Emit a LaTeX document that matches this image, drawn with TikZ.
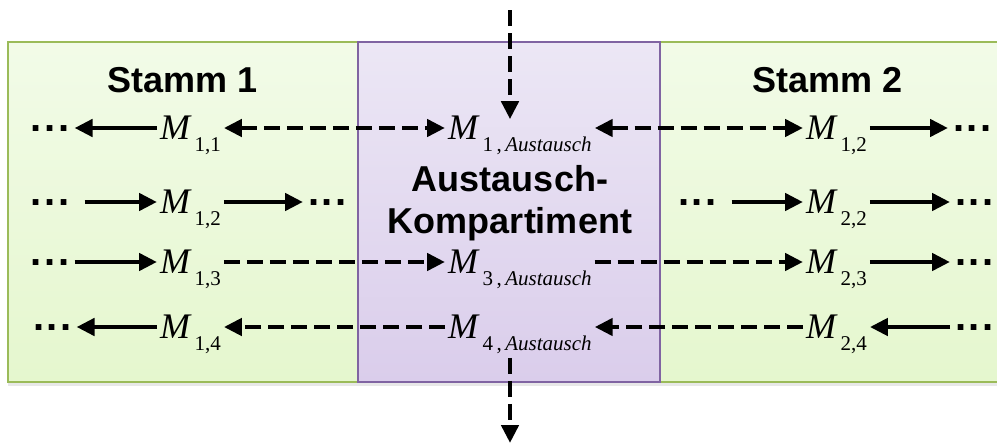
\documentclass[tikz,border=0pt]{standalone}
\usepackage{fontspec}
\setmainfont{Liberation Serif}
\setsansfont{Liberation Sans}
\usetikzlibrary{arrows.meta,shadows}
\definecolor{stammtop}{RGB}{242,251,232}
\definecolor{stammbot}{RGB}{229,247,206}
\definecolor{stammline}{RGB}{155,187,89}
\definecolor{austtop}{RGB}{236,231,245}
\definecolor{austbot}{RGB}{218,205,235}
\definecolor{austline}{RGB}{128,100,162}
\newcommand{\mvar}[1]{\textit{M}\hspace{1.5pt}\smash{\raisebox{-6pt}{\fontsize{10.5}{12}\selectfont #1}}}
\newcommand{\punkte}{.\kern1.3pt.\kern1.3pt.}
\tikzset{
  >={Triangle[length=9pt,width=8.5pt]},
  panel/.style={line width=1.2pt, drop shadow={opacity=0.18, shadow xshift=0pt, shadow yshift=-2pt}},
  stamm/.style={panel, draw=stammline, top color=stammtop, bottom color=stammbot},
  austausch/.style={panel, draw=austline, top color=austtop, bottom color=austbot},
  title/.style={font=\sffamily\bfseries\fontsize{18}{21}\selectfont, align=center},
  mnode/.style={font=\fontsize{18}{20}\selectfont, inner sep=0pt, outer sep=1.5pt, anchor=west},
  dots/.style={font=\sffamily\bfseries\fontsize{20}{22}\selectfont, inner sep=0pt, outer sep=2.5pt, anchor=west},
  flow/.style={line width=2.4pt},
  flowd/.style={flow, dash pattern=on 8pt off 3.5pt}
}

\begin{document}
\begin{tikzpicture}[x=0.5pt, y=-0.5pt]
  \useasboundingbox (0,0) rectangle (997,445);
  % Kompartimente
  \path[stamm] (8,42) rectangle (358,382);
  \path[stamm] (660,42) rectangle (1010,382);
  \path[austausch] (358,42) rectangle (660,382);
  \node[title, anchor=base] (s1) at (183,92) {Stamm 1};
  \node[title, anchor=base] (s2) at (828,92) {Stamm 2};
  \node[title] (ak) at (510,203) {Austausch-\\Kompartiment};
  % Zeile 1
  \node[dots] (l1) at (26,129) {\punkte};
  \node[mnode] (m11) at (157,128) {\mvar{1,1}};
  \node[mnode] (a1) at (445,128) {\mvar{1\,,\,\textit{Austausch}}};
  \node[mnode] (r12) at (803,128) {\mvar{1,2}};
  \node[dots] (r1) at (948,129) {\punkte};
  % Zeile 2
  \node[dots] (l2a) at (26,203) {\punkte};
  \node[mnode] (m12) at (157,202) {\mvar{1,2}};
  \node[dots] (l2b) at (303,203) {\punkte};
  \node[dots] (r2a) at (673,203) {\punkte};
  \node[mnode] (r22) at (803,202) {\mvar{2,2}};
  \node[dots] (r2b) at (950,203) {\punkte};
  % Zeile 3
  \node[dots] (l3) at (26,263) {\punkte};
  \node[mnode] (m13) at (157,262) {\mvar{1,3}};
  \node[mnode] (a3) at (445,262) {\mvar{3\,,\,\textit{Austausch}}};
  \node[mnode] (r23) at (803,262) {\mvar{2,3}};
  \node[dots] (r3) at (950,263) {\punkte};
  % Zeile 4
  \node[dots] (l4) at (28,328) {\punkte};
  \node[mnode] (m14) at (157,327) {\mvar{1,4}};
  \node[mnode] (a4) at (445,327) {\mvar{4\,,\,\textit{Austausch}}};
  \node[mnode] (r24) at (803,327) {\mvar{2,4}};
  \node[dots] (r4) at (950,328) {\punkte};
  \coordinate (top) at (510,10);
  \coordinate (bot) at (510,443);
  % Pfeile
  \draw[flow,->] (m11.west) -- (l1.east |- m11.west);
  \draw[flowd,<->] (m11) -- (a1);
  \draw[flowd,<->] (a1) -- (r12);
  \draw[flow,->] (r12.east) -- (r1.west |- r12.east);
  \draw[flow,->,shorten <=5pt] (l2a.east |- m12.west) -- (m12.west);
  \draw[flow,->] (m12.east) -- (l2b.west |- m12.east);
  \draw[flow,->,shorten <=5pt] (r2a.east |- r22.west) -- (r22.west);
  \draw[flow,->] (r22.east) -- (r2b.west |- r22.east);
  \draw[flow,->] (l3.east |- m13.west) -- (m13.west);
  \draw[flowd,->] (m13) -- (a3);
  \draw[flowd,->] (a3) -- (r23);
  \draw[flow,->] (r23.east) -- (r3.west |- r23.east);
  \draw[flow,->] (m14.west) -- (l4.east |- m14.west);
  \draw[flowd,->] (a4) -- (m14);
  \draw[flowd,->] (r24) -- (a4);
  \draw[flow,->] (r4.west |- r24.east) -- (r24.east);
  \draw[flowd,->,shorten >=-3pt] (top) -- (top |- a1.north);
  \draw[flowd,->,shorten <=8pt] (bot |- a4.south) -- (bot);
\end{tikzpicture}
\end{document}
